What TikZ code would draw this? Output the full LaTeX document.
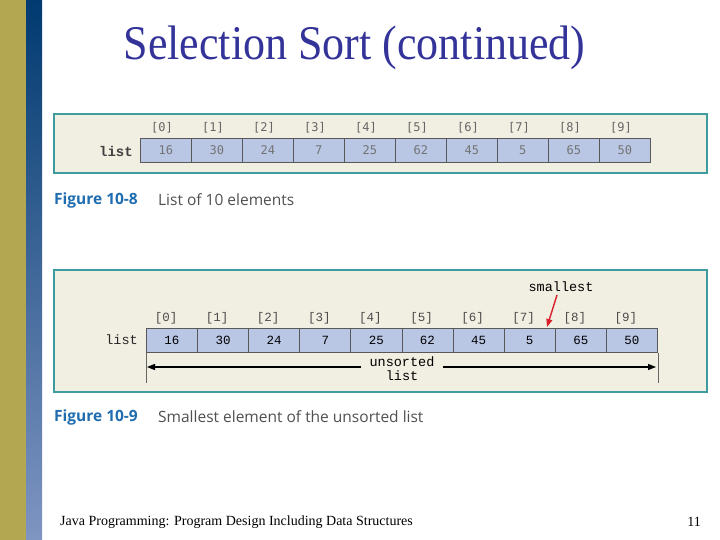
\documentclass[tikz,border=0pt]{standalone}
\usepackage{fontspec}
\setmainfont{Liberation Serif}
\newfontfamily\capfont{Open Sans}
\newfontfamily\cmono{Liberation Mono}
\newfontfamily\dmono{DejaVu Sans Mono}
\usetikzlibrary{arrows.meta}
\definecolor{olivebar}{HTML}{B3A752}
\definecolor{bartop}{HTML}{003A70}
\definecolor{barbot}{HTML}{7F95C2}
\definecolor{titleblue}{HTML}{333399}
\definecolor{panel}{HTML}{F1EEE2}
\definecolor{panelline}{HTML}{3E9C9E}
\definecolor{cellfill}{HTML}{B9C7E5}
\definecolor{figblue}{HTML}{1F6DB0}
\definecolor{capgray}{HTML}{505050}
\definecolor{smallred}{HTML}{D8202A}
\tikzset{
  panelbox/.style={fill=panel,draw=panelline,line width=1.5pt},
  cellA/.style={draw=black!65,fill=cellfill,line width=0.8pt,minimum width=50.9pt,minimum height=24pt,inner sep=0pt,anchor=north west,font=\dmono\fontsize{12}{13}\selectfont,text=black!55},
  cellB/.style={draw=black!65,fill=cellfill,line width=0.8pt,minimum width=51.1pt,minimum height=24pt,inner sep=0pt,anchor=north west,font=\cmono\fontsize{12.5}{13}\selectfont},
  idxA/.style={font=\dmono\fontsize{12}{13}\selectfont,text=black!60,inner sep=0pt},
  idxB/.style={font=\cmono\fontsize{12.5}{13}\selectfont,text=black!70,inner sep=0pt},
  figlab/.style={font=\capfont\bfseries\fontsize{15.5}{17}\selectfont,text=figblue,anchor=west,inner sep=0pt},
  figtxt/.style={font=\capfont\fontsize{15.5}{17}\selectfont,text=capgray,anchor=west,inner sep=0pt},
  dimarrow/.style={line width=1.2pt,-{Triangle[length=8pt,width=6pt]}},
}
\begin{document}
\begin{tikzpicture}[x=1pt,y=-1pt]
\useasboundingbox (0,0) rectangle (720,540);
\fill[white] (0,0) rectangle (720,540);
% left bars
\fill[olivebar] (0,0) rectangle (26,540);
\shade[top color=bartop,bottom color=barbot] (26,0) rectangle (42,540);
% title
\node[font=\fontsize{44}{46}\selectfont,text=titleblue,inner sep=0pt] (title) at (354.5,48) {\scalebox{1}[1.1]{Selection Sort (continued)}};
% ---------- Figure 10-8 ----------
\draw[panelbox] (54,114) rectangle (707,173);
\node[font=\cmono\bfseries\fontsize{14}{15}\selectfont,text=black!75,anchor=east,inner sep=0pt] (listA) at (133,151) {list};
\foreach \v [count=\i from 0] in {16,30,24,7,25,62,45,5,65,50}{
  \node[cellA] (a\i) at (140+51.0*\i,138) {\v};
  \node[idxA] (ia\i) at (162+51.0*\i,128) {[\i]};
}
\node[figlab] (f8) at (54,200) {Figure 10-8};
\node[figtxt] (f8t) at (158,200) {List of 10 elements};
% ---------- Figure 10-9 ----------
\draw[panelbox] (54,270) rectangle (707,392);
\node[font=\cmono\fontsize{13.5}{15}\selectfont,text=black!85,anchor=east,inner sep=0pt] (listB) at (138,340) {list};
\foreach \v [count=\i from 0] in {16,30,24,7,25,62,45,5,65,50}{
  \node[cellB] (b\i) at (146+51.1*\i,328) {\v};
  \node[idxB] (ib\i) at (166+51.1*\i,318) {[\i]};
}
\coordinate (lt) at ([yshift=-30pt]b0.south west);
\coordinate (rt) at ([yshift=-30pt]b9.south east);
\draw[black!60,line width=0.6pt] (b0.south west) -- (lt);
\draw[black!60,line width=0.6pt] (b9.south east) -- (rt);
\node[font=\cmono\fontsize{13.5}{14}\selectfont,align=center,inner sep=0pt] (uns) at (402,369) {unsorted\\list};
\coordinate (la) at (147,367);
\coordinate (ra) at (656,367);
\draw[dimarrow] (361,367) -- (la);
\draw[dimarrow] (443,367) -- (ra);
\node[font=\cmono\fontsize{13.5}{15}\selectfont,inner sep=0pt] (small) at (561,287) {smallest};
\coordinate (tip) at (547,327);
\draw[smallred,line width=1.4pt,-{Triangle[length=8pt,width=6pt]}] (557,295) -- (tip);
\node[figlab] (f9) at (54,417) {Figure 10-9};
\node[figtxt] (f9t) at (158,417) {Smallest element of the unsorted list};
% footer
\node[font=\fontsize{14}{16}\selectfont,anchor=west,inner sep=0pt] (foot) at (60,522) {Java Programming: Program Design Including Data Structures};
\node[font=\fontsize{14}{16}\selectfont,anchor=east,inner sep=0pt] (pg) at (701,522) {11};
\end{tikzpicture}
\end{document}
